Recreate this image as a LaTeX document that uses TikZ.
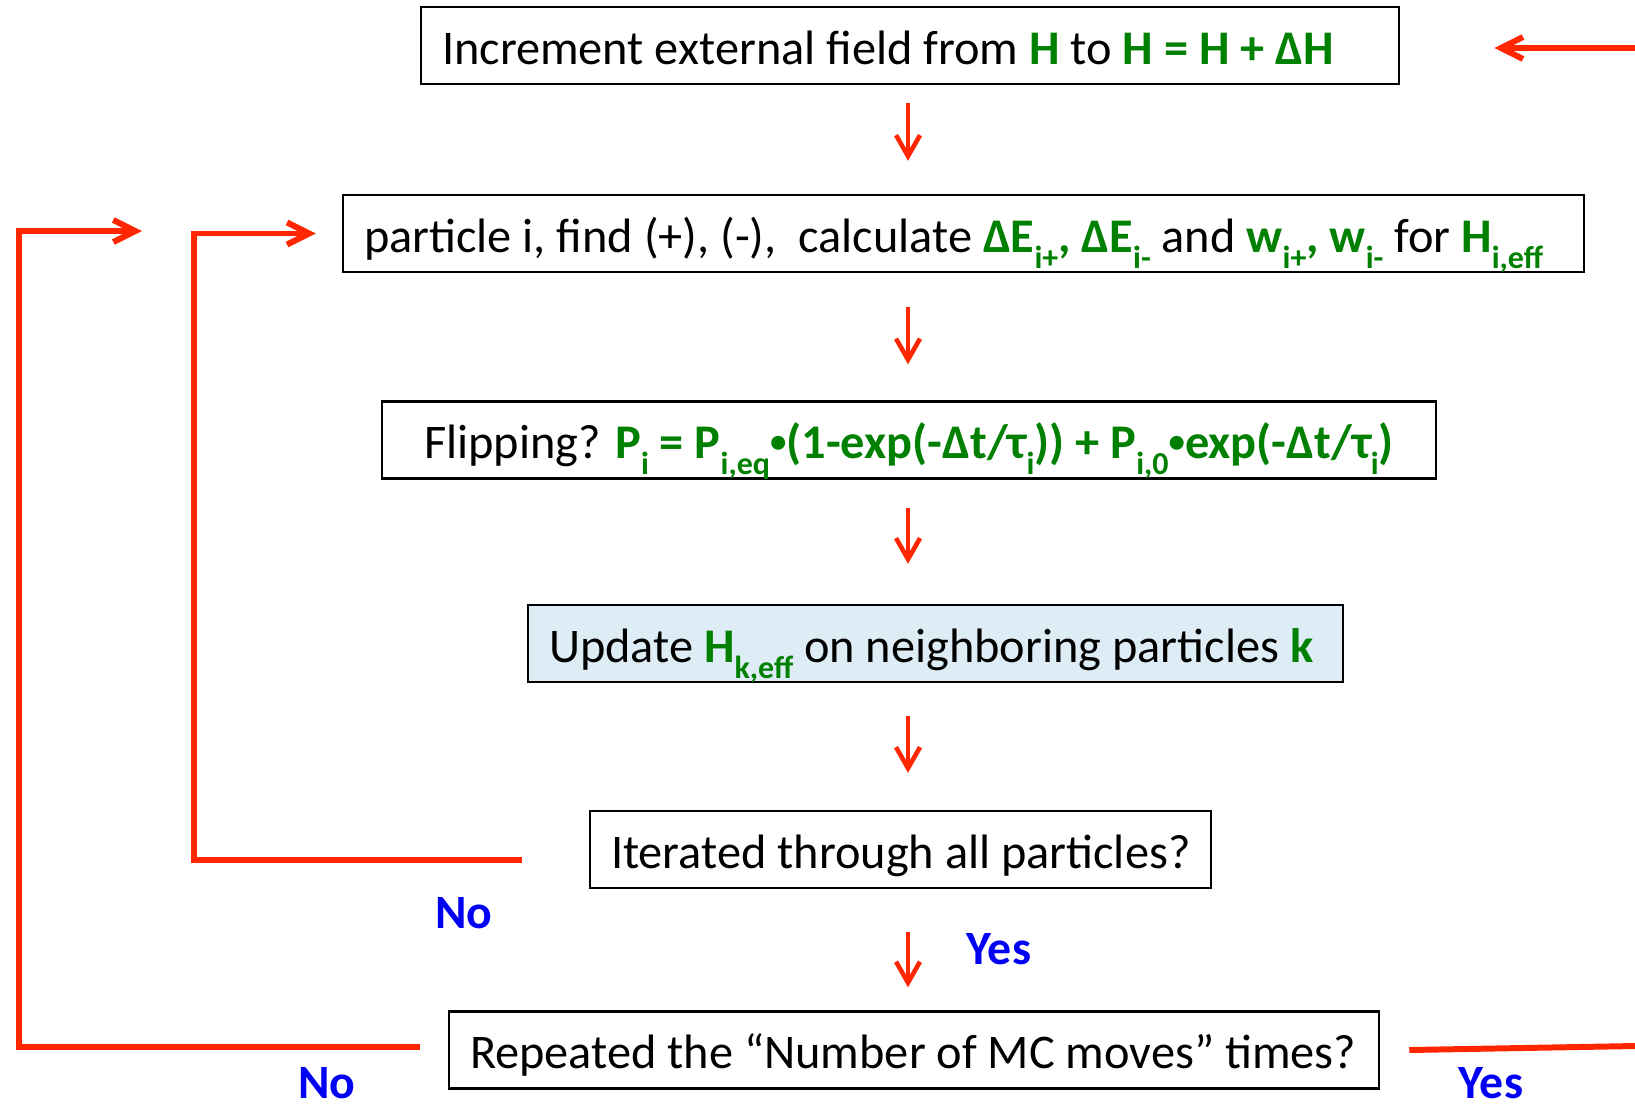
\documentclass[tikz,border=0pt]{standalone}
\usepackage{fontspec}
\setmainfont{Carlito}
\usepackage{xcolor}
\usetikzlibrary{arrows.meta,positioning,calc}

\definecolor{arrred}{RGB}{255,38,0}
\definecolor{eqgreen}{RGB}{0,128,0}
\definecolor{ansblue}{RGB}{0,0,245}
\definecolor{updfill}{RGB}{222,237,245}

% green bold formula text, lowered subscripts, small bullet
\newcommand{\grn}[1]{\textcolor{eqgreen}{\bfseries #1}}
\newcommand{\subs}[1]{\raisebox{-0.34em}{\fontsize{9.1pt}{9.1pt}\selectfont #1}}
\newcommand{\dotop}{\raisebox{0.12em}{\scalebox{0.68}{•}}}
% one-line box text of fixed width
\newcommand{\lbox}[3][l]{\makebox[#2][#1]{#3}}

\begin{document}
\begin{tikzpicture}[
  % boxes
  stepbox/.style={draw=black, line width=0.7pt, fill=white,
                  inner xsep=0.21cm, inner ysep=0pt,
                  text height=0.57cm, text depth=0.20cm,
                  font=\fontsize{13.75pt}{16pt}\selectfont},
  updbox/.style={stepbox, fill=updfill},
  % connectors
  flowarr/.style={draw=arrred, line width=1.3pt,
                  -{Straight Barb[length=2.1mm,width=2.4mm]}},
  loopline/.style={draw=arrred, line width=1.7pt},
  looparr/.style={loopline, -{Straight Barb[length=2.2mm,width=2.2mm]}},
  % yes / no labels
  ans/.style={text=ansblue, font=\fontsize{13.6pt}{16pt}\selectfont\bfseries,
              inner sep=0pt},
]
\useasboundingbox (0,0) rectangle (16.35,-11.08);

% ── Arrow column / free ends ─────────────────────────────────────────────
\def\xA{9.08}
\coordinate (acol) at (\xA,0);
\coordinate (inR)  at (16.35,-0.48);
\coordinate (outR) at (16.35,-10.46);
\coordinate (tipO) at (1.42,-2.31);
\coordinate (colI) at (1.94,0);
\coordinate (colO) at (0.19,0);

% ── Steps ────────────────────────────────────────────────────────────────
\node[stepbox] (incr) at (9.10,-0.455)
  {\lbox{9.36cm}{Increment external field from \grn{H} to \grn{H = H + ΔH}}};
\node[stepbox] (calc) at (9.635,-2.335)
  {\lbox{11.99cm}{particle i, find (+), (-),~ calculate \grn{ΔE\subs{i+}, ΔE\subs{i-}} and
   \grn{w\subs{i+}, w\subs{i-}} for \grn{H\subs{i,eff}}}};
\node[stepbox] (flip) at (9.09,-4.40)
  {\lbox[c]{10.12cm}{Flipping? \grn{P\subs{i} = P\subs{i,eq}\dotop(1-exp(-Δt/τ\subs{i})) +
   P\subs{i,0}\dotop exp(-Δt/τ\subs{i})}}};
\node[updbox] (upd) at (9.355,-6.435)
  {\lbox{7.73cm}{Update \grn{H\subs{k,eff}} on neighboring particles \grn{k}}};
\node[stepbox] (iter) at (9.005,-8.495)
  {\lbox{5.79cm}{Iterated through all particles?}};
\node[stepbox] (rep) at (9.14,-10.50)
  {\lbox{8.88cm}{Repeated the “Number of MC moves” times?}};

% ── Main flow ────────────────────────────────────────────────────────────
\draw[flowarr, shorten <=0.18cm, shorten >=0.33cm] (incr.south -| acol) -- (calc.north -| acol);
\draw[flowarr, shorten <=0.34cm, shorten >=0.36cm] (calc.south -| acol) -- (flip.north -| acol);
\draw[flowarr, shorten <=0.28cm, shorten >=0.40cm] (flip.south -| acol) -- (upd.north -| acol);
\draw[flowarr, shorten <=0.33cm, shorten >=0.37cm] (upd.south -| acol) -- (iter.north -| acol);
\draw[flowarr, shorten <=0.43cm, shorten >=0.23cm] (iter.south -| acol) -- (rep.north -| acol);

% ── Loops back ───────────────────────────────────────────────────────────
\coordinate (sI) at ([shift={(-0.67,-0.105)}]iter.west);
\draw[looparr] (sI) -- (sI -| colI) |- ([xshift=-0.26cm]calc.west);
\coordinate (sO) at ([shift={(-0.28,0.03)}]rep.west);
\draw[looparr] (sO) -- (sO -| colO) |- (tipO);

% ── In / out ─────────────────────────────────────────────────────────────
\draw[looparr] (inR) -- ([shift={(0.94cm,-0.025cm)}]incr.east);
\draw[loopline] ([xshift=0.29cm]rep.east) -- (outR);

% ── Answers ──────────────────────────────────────────────────────────────
\node[ans] (noI)  at (4.64,-9.13)  {No};
\node[ans] (noO)  at (3.27,-10.83) {No};
\node[ans] (yesI) at (9.99,-9.49)  {Yes};
\node[ans] (yesO) at (14.91,-10.83) {Yes};

\end{tikzpicture}
\end{document}
